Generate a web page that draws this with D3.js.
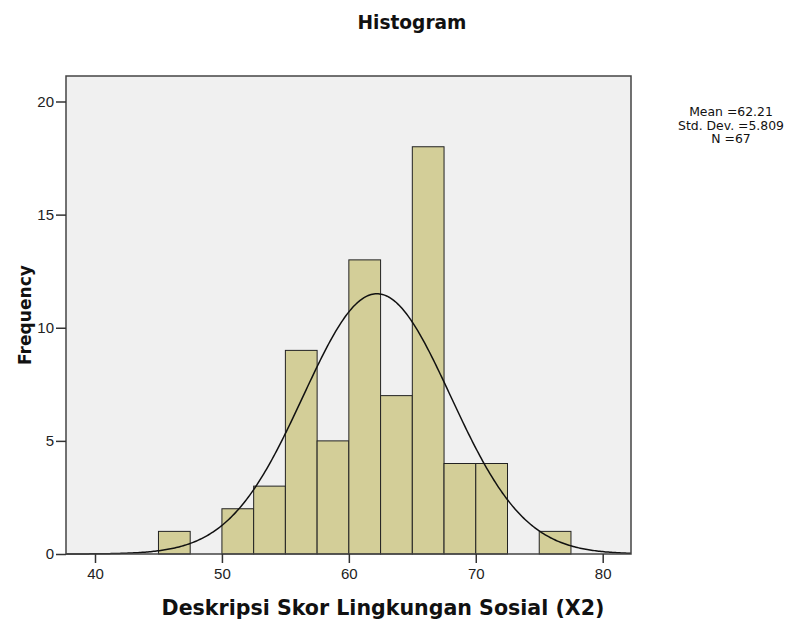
<!DOCTYPE html>
<html><head><meta charset="utf-8">
<script src="https://cdn.jsdelivr.net/npm/d3@7"></script>
<style>body{margin:0;background:#fff;}svg{display:block;}</style>
</head><body>
<script>
const binStarts = [45, 50, 52.5, 55, 57.5, 60, 62.5, 65, 67.5, 70, 75];
const counts    = [1, 2, 3, 9, 5, 13, 7, 18, 4, 4, 1];
const binWidth = 2.5;
const xTicks = [40, 50, 60, 70, 80];
const yTicks = [0, 5, 10, 15, 20];
const stats = {mean: 62.21, sd: 5.809, n: 67};
const statLines = ["Mean =62.21", "Std. Dev. =5.809", "N =67"];

const W = 791, H = 621;
const L = 66, R = 631, T = 76, B = 554;
const svg = d3.select("body").append("svg").attr("width", W).attr("height", H);

const x = d3.scaleLinear().domain([40, 80]).range([95, 602.7]);
const y = d3.scaleLinear().domain([0, 20]).range([B, 101.5]);

function fit(sel, target) {
  const n = sel.node();
  const fs = parseFloat(sel.attr("font-size"));
  const w = n.getComputedTextLength();
  sel.attr("font-size", fs * target / w);
}

svg.append("rect").attr("x", L).attr("y", T).attr("width", R - L).attr("height", B - T)
  .attr("fill", "#f0f0f0");

svg.append("g").selectAll("rect").data(binStarts).join("rect")
  .attr("x", d => x(d)).attr("width", d => x(d + binWidth) - x(d))
  .attr("y", (d, i) => y(counts[i])).attr("height", (d, i) => y(0) - y(counts[i]))
  .attr("fill", "#d3ce98").attr("stroke", "#222").attr("stroke-width", 1);

// fitted normal curve from stated mean, sd and N
const xmin = x.invert(L), xmax = x.invert(R);
const pts = d3.range(0, 401).map(i => {
  const v = xmin + (xmax - xmin) * i / 400;
  const z = (v - stats.mean) / stats.sd;
  return [v, stats.n * binWidth * Math.exp(-0.5 * z * z) / (stats.sd * Math.sqrt(2 * Math.PI))];
});
svg.append("path").datum(pts)
  .attr("d", d3.line().x(d => x(d[0])).y(d => y(d[1])))
  .attr("fill", "none").attr("stroke", "#111").attr("stroke-width", 1.5);

svg.append("rect").attr("x", L).attr("y", T).attr("width", R - L).attr("height", B - T)
  .attr("fill", "none").attr("stroke", "#444").attr("stroke-width", 1.5);

const xa = svg.append("g").attr("transform", `translate(0,${B})`)
  .call(d3.axisBottom(x).tickValues(xTicks).tickSize(9).tickPadding(5));
xa.select(".domain").remove();
const ya = svg.append("g").attr("transform", `translate(${L},0)`)
  .call(d3.axisLeft(y).tickValues(yTicks).tickSize(10).tickPadding(2));
ya.select(".domain").remove();
svg.selectAll(".tick line").attr("stroke", "#333").attr("stroke-width", 1.5);
svg.selectAll(".tick text").attr("font-family", "Liberation Sans, Arial, sans-serif")
  .attr("font-size", 15).attr("fill", "#222");

const bold = "DejaVu Sans, Verdana, sans-serif";
const title = svg.append("text").attr("x", 412).attr("y", 29).attr("text-anchor", "middle")
  .attr("font-family", bold).attr("font-weight", "bold")
  .attr("font-size", 17).attr("fill", "#111").text("Histogram");
fit(title, 109);

const xl = svg.append("text").attr("x", 383).attr("y", 615).attr("text-anchor", "middle")
  .attr("font-family", bold).attr("font-weight", "bold")
  .attr("font-size", 18).attr("fill", "#111").text("Deskripsi Skor Lingkungan Sosial (X2)");
fit(xl, 443);

const yl = svg.append("text").attr("transform", "translate(31,315) rotate(-90)").attr("text-anchor", "middle")
  .attr("font-family", bold).attr("font-weight", "bold")
  .attr("font-size", 17).attr("fill", "#111").text("Frequency");
fit(yl, 100);

const st = svg.append("g").selectAll("text").data(statLines).join("text")
  .attr("x", 731).attr("y", (d, i) => 116 + i * 13.5).attr("text-anchor", "middle")
  .attr("font-family", "DejaVu Sans, Verdana, sans-serif").attr("font-size", 11)
  .attr("fill", "#111").text(d => d);
fit(d3.select(st.nodes()[1]), 106);
st.attr("font-size", d3.select(st.nodes()[1]).attr("font-size"));
</script>
</body></html>
